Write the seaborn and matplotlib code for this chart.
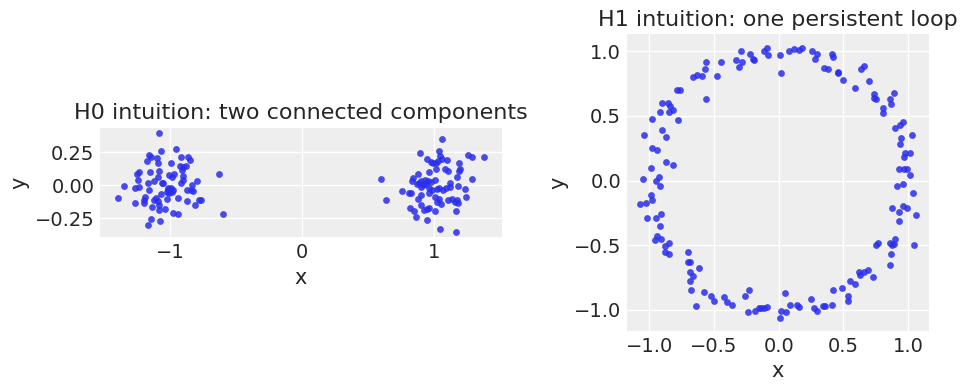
import numpy as np
import pandas as pd
import matplotlib
matplotlib.use("Agg")
import matplotlib.pyplot as plt
import seaborn as sns

# H0 panel: two blobs (left one around x=-1, right one around x=1)
h0_left_x = [-1.085, -0.956, -1.070, -1.161, -1.150, -1.105, -0.923, -0.865, -0.850, -1.176,
             -1.095, -0.994, -0.928, -0.903, -0.882, -0.915, -1.085, -1.236, -1.252, -1.153,
             -1.009, -0.973, -0.991, -0.903, -1.095, -0.630, -1.247, -1.123, -1.067, -1.059,
             -0.920, -0.903, -0.839, -0.796, -1.168, -1.350, -1.272, -1.236, -1.161, -1.016,
             -1.004, -1.029, -0.979, -1.009, -0.877, -0.847, -0.832, -1.075, -1.396, -1.196,
             -1.201, -1.110, -1.125, -1.095, -1.024, -0.946, -1.267, -1.204, -0.877, -0.784,
             -0.766, -0.812, -1.138, -1.090, -1.039, -0.981, -0.941, -0.599, -1.145, -1.077,
             -1.168, -1.090, -0.999, -1.021, -0.991]
h0_left_y = [0.400, 0.273, 0.258, 0.232, 0.217, 0.207, 0.212, 0.215, 0.189, 0.182,
             0.167, 0.167, 0.146, 0.141, 0.146, 0.116, 0.111, 0.101, 0.086, 0.098,
             0.081, 0.086, 0.066, 0.071, 0.066, 0.083, 0.038, 0.030, 0.015, 0.020,
             0.015, 0.040, 0.005, 0.030, 0.015, -0.008, -0.023, -0.015, -0.035, -0.023,
             -0.035, -0.048, -0.040, -0.061, -0.040, -0.040, -0.045, -0.068, -0.098, -0.093,
             -0.111, -0.098, -0.111, -0.121, -0.106, -0.098, -0.134, -0.136, -0.121, -0.114,
             -0.114, -0.152, -0.167, -0.192, -0.182, -0.210, -0.220, -0.220, -0.255, -0.275,
             -0.303, -0.149, -0.023, -0.035, -0.051]

h0_right_x = [1.062, 0.895, 1.039, 1.049, 1.259, 1.290, 1.378, 0.948, 0.976, 0.996,
              1.019, 1.034, 1.059, 1.100, 1.191, 1.016, 1.087, 1.107, 1.196, 1.188,
              0.963, 0.880, 1.173, 1.290, 0.599, 0.842, 0.834, 0.890, 0.905, 0.930,
              0.956, 0.981, 0.915, 0.943, 0.875, 0.900, 1.011, 1.123, 0.759, 0.814,
              0.829, 0.966, 0.986, 1.021, 1.042, 1.070, 1.095, 1.125, 1.183, 1.236,
              0.905, 0.966, 1.006, 1.037, 1.027, 1.107, 1.138, 1.158, 1.173, 1.241,
              0.880, 1.052, 1.183, 0.637, 0.819, 0.850, 0.905, 0.951, 0.966, 0.865,
              1.006, 1.168, 0.946, 1.047, 1.168, 0.925]
h0_right_y = [0.348, 0.242, 0.258, 0.222, 0.230, 0.212, 0.212, 0.197, 0.177, 0.167,
              0.167, 0.187, 0.197, 0.189, 0.167, 0.124, 0.126, 0.111, 0.121, 0.106,
              0.098, 0.086, 0.063, 0.045, 0.045, 0.053, 0.035, 0.020, 0.035, 0.040,
              0.035, 0.028, 0.003, 0.010, 0.010, -0.010, 0.040, 0.020, -0.045, -0.056,
              -0.061, -0.023, -0.035, -0.030, -0.023, -0.035, -0.023, -0.010, -0.005, -0.030,
              -0.073, -0.056, -0.086, -0.106, -0.124, -0.111, -0.106, -0.126, -0.111, -0.091,
              -0.106, -0.141, -0.136, -0.114, -0.174, -0.199, -0.154, -0.182, -0.174, -0.242,
              -0.199, -0.199, -0.263, -0.331, -0.359, -0.187]

# H1 panel: noisy circle
h1_x = [-0.11, -0.09, -0.08, 0.01, 0.02, 0.08, 0.12, 0.16, 0.18, 0.26,
        0.30, 0.28, 0.41, 0.42, 0.35, 0.38, 0.46, 0.46, 0.50, 0.59,
        0.64, 0.66, 0.70, 0.74, 0.74, 0.75, 0.81, 0.81, 0.86, 0.87,
        0.89, 0.90, 0.94, 0.96, 0.95, 0.94, 1.03, 0.98, 1.02, 0.97,
        0.93, 0.97, 0.99, 1.02, 0.92, 0.96, 1.04, 0.88, 0.96, 0.99,
        0.93, 0.93, 1.06, 0.75, 0.77, 0.86, 0.87, 0.86, 0.88, 0.90,
        0.89, 1.05, 0.73, 0.69, 0.62, 0.63, 0.66, 0.55, 0.59, 0.49,
        0.42, 0.54, 0.54, 0.41, 0.34, 0.36, 0.27, 0.30, 0.25, 0.14,
        0.16, 0.09, 0.05, 0.06, 0.02, 0.01, -0.09, -0.11, -0.14, -0.15,
        -0.18, -0.24, -0.23, -0.26, -0.36, -0.40, -0.42, -0.50, -0.52, -0.64,
        -0.58, -0.68, -0.62, -0.66, -0.69, -0.69, -0.69, -0.70, -0.70, -0.85,
        -0.88, -0.88, -0.85, -0.91, -0.94, -0.96, -0.92, -0.91, -0.95, -1.02,
        -1.03, -1.07, -0.98, -0.99, -0.92, -0.95, -0.93, -1.05, -0.82, -0.87,
        -0.99, -0.94, -0.98, -0.87, -0.90, -1.04, -0.98, -0.78, -0.92, -0.85,
        -0.82, -0.84, -0.86, -0.90, -0.79, -0.76, -0.56, -0.48, -0.66, -0.59,
        -0.63, -0.57, -0.56, -0.45, -0.31, -0.33, -0.19, -0.20, -0.28, -0.22,
        -0.29]
h1_y = [1.00, 1.03, 0.97, 0.97, 0.83, 1.00, 1.02, 1.01, 1.03, 1.00,
        0.98, 0.94, 0.98, 0.96, 0.87, 0.86, 0.84, 0.83, 0.78, 0.72,
        0.86, 0.89, 0.77, 0.67, 0.64, 0.63, 0.56, 0.52, 0.63, 0.59,
        0.68, 0.41, 0.43, 0.45, 0.33, 0.28, 0.35, 0.21, 0.21, 0.18,
        0.09, 0.09, 0.09, 0.04, -0.04, -0.03, -0.10, -0.21, -0.20, -0.21,
        -0.24, -0.31, -0.27, -0.50, -0.48, -0.48, -0.57, -0.65, -0.50, -0.45,
        -0.49, -0.50, -0.75, -0.69, -0.71, -0.73, -0.71, -0.78, -0.80, -0.83,
        -0.85, -0.89, -0.93, -0.96, -0.97, -0.97, -0.99, -1.01, -0.92, -0.96,
        -0.98, -0.96, -0.87, -1.02, -1.01, -1.06, -0.98, -0.99, -0.99, -0.99,
        -1.01, -1.02, -0.85, -0.89, -0.96, -0.94, -0.90, -0.93, -0.89, -0.97,
        -0.86, -0.85, -0.68, -0.74, -0.78, -0.71, -0.63, -0.63, -0.55, -0.57,
        -0.55, -0.51, -0.48, -0.45, -0.43, -0.46, -0.35, -0.26, -0.29, -0.29,
        -0.17, -0.18, -0.15, -0.11, -0.04, 0.00, 0.03, 0.01, 0.12, 0.14,
        0.10, 0.24, 0.25, 0.34, 0.39, 0.35, 0.48, 0.47, 0.53, 0.53,
        0.55, 0.58, 0.60, 0.60, 0.70, 0.70, 0.63, 0.81, 0.80, 0.81,
        0.82, 0.86, 0.92, 0.92, 0.88, 0.93, 0.93, 0.94, 0.92, 0.98,
        1.00]

left_xticks = [-1, 0, 1]
left_yticks = [-0.25, 0.0, 0.25]
right_ticks = [-1.0, -0.5, 0.0, 0.5, 1.0]

sns.set_theme(style="darkgrid", rc={
    "axes.facecolor": "#eeeeee",
    "figure.facecolor": "white",
    "grid.color": "white",
    "grid.linewidth": 1.0,
    "axes.titlesize": 16,
    "axes.labelsize": 15,
    "xtick.labelsize": 14,
    "ytick.labelsize": 14,
    "xtick.major.size": 0,
    "ytick.major.size": 0,
    "xtick.major.pad": 4,
    "ytick.major.pad": 4,
    "axes.labelpad": 4,
})
plt.rcParams["font.family"] = ["DejaVu Sans"]

h0 = pd.DataFrame({
    "x": h0_left_x + h0_right_x,
    "y": h0_left_y + h0_right_y,
})
h1 = pd.DataFrame({"x": h1_x, "y": h1_y})

fig = plt.figure(figsize=(9.68, 3.9), dpi=100)
ax0 = fig.add_axes([100 / 968, 59 / 390, 402 / 968, 297 / 390])
ax1 = fig.add_axes([600 / 968, 59 / 390, 356 / 968, 297 / 390])

point_kw = dict(color="#2a2eec", alpha=0.85, s=24, linewidth=0)

sns.scatterplot(data=h0, x="x", y="y", ax=ax0, **point_kw)
ax0.set_title("H0 intuition: two connected components")
ax0.set_xticks(left_xticks)
ax0.set_yticks(left_yticks)
ax0.set_aspect("equal")

sns.scatterplot(data=h1, x="x", y="y", ax=ax1, **point_kw)
ax1.set_title("H1 intuition: one persistent loop")
ax1.set_xticks(right_ticks)
ax1.set_yticks(right_ticks)
ax1.set_aspect("equal")

for ax in (ax0, ax1):
    for sp in ax.spines.values():
        sp.set_visible(False)

fig.savefig("out.png", dpi=100)
